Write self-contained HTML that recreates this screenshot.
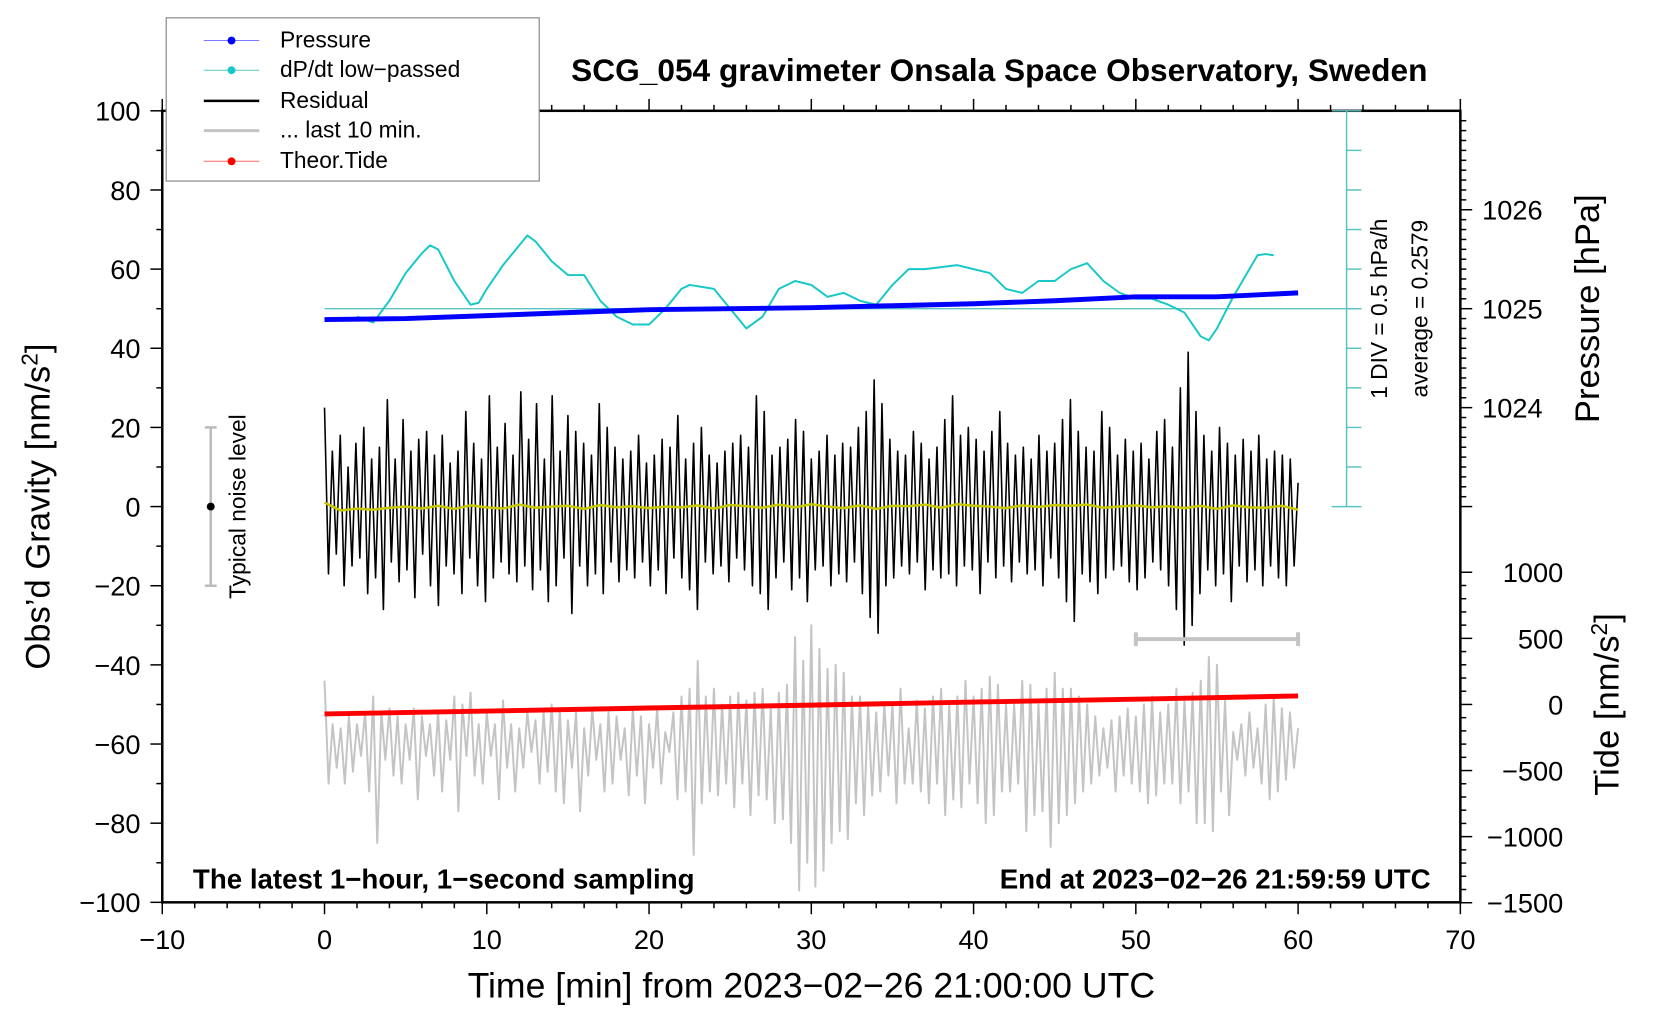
<!DOCTYPE html>
<html><head><meta charset="utf-8">
<style>
html,body{margin:0;padding:0;background:#fff;}
svg{display:block;font-family:"Liberation Sans",sans-serif;}
</style></head>
<body>
<svg id="chart" width="1660" height="1020" viewBox="0 0 1660 1020" xmlns="http://www.w3.org/2000/svg">
<rect x="0" y="0" width="1660" height="1020" fill="#fff"/>
<g transform="scale(0.9894)">
<g id="layer-axes"></g>
<g id="layer-data"></g>
<g id="layer-text"></g>
</g>
</svg>
<script>
// ---- data arrays ----
const xTicks = [-10,0,10,20,30,40,50,60,70];
const yTicks = [-100,-80,-60,-40,-20,0,20,40,60,80,100];
const pressureTicks = [1024,1025,1026];
const tideTicks = [1000,500,0,-500,-1000,-1500];
const pressureTime = [0,5,10,15,20,25,30,35,40,45,50,55,60];
const pressureVals = [1024.89,1024.90,1024.93,1024.96,1024.99,1025.00,1025.01,1025.03,1025.05,1025.08,1025.12,1025.12,1025.16];
const dpdtTime = [2,3,4,5,6,6.5,7,8,9,9.5,10,11,12,12.5,13,14,15,16,17,18,19,20,21,22,22.5,24,25,26,27,28,29,30,31,32,33,34,35,36,37,38,39,40,41,42,43,44,45,46,47,48,49,50,51,52,53,54,54.5,55,56,57,57.5,58,58.5];
const dpdtVals = [48,46.5,52,59,64,66,65,57,51,51.5,55,61,66,68.5,67,62,58.5,58.5,52,48,46,46,50,55,56,55,50,45,48,55,57,56,53,54,52,51,56,60,60,60.5,61,60,59,55,54,57,57,60,61.5,57,54,52.5,52.5,51,49,43,42,45,53,60,63.5,63.8,63.5];
const tideTime = [0,10,20,30,40,50,60];
const tideVals = [-72,-50,-27,-5,18,40,64];
const smoothVals = [1,-1,-0.5,-0.8,-0.3,0,-0.5,0.2,-0.6,0.3,-0.2,-0.5,0.5,-0.3,0,0.2,-0.6,0.4,-0.2,0.1,-0.4,0,-0.2,0.3,-0.5,0.4,0.1,-0.3,0.5,-0.2,0.6,0,-0.4,0.3,-0.6,0.2,0.1,0.5,-0.3,0.6,0.2,0,-0.4,0.3,-0.1,0.4,0.2,0.5,-0.3,0,0.3,-0.2,0.1,-0.4,0.2,-0.6,0.3,-0.2,-0.3,0.2,-0.8];
const grayVals = [-44,-70,-55,-66,-56,-70,-53,-67,-55,-63,-52,-72,-48,-85,-52,-64,-51,-68,-53,-70,-55,-64,-51,-74,-53,-63,-55,-68,-52,-72,-54,-64,-48,-77,-50,-63,-47,-68,-55,-70,-52,-63,-55,-74,-49,-66,-55,-72,-56,-66,-52,-62,-54,-70,-52,-67,-50,-72,-51,-75,-54,-66,-52,-77,-56,-68,-51,-64,-55,-72,-52,-70,-53,-64,-56,-73,-51,-68,-53,-75,-55,-66,-51,-70,-57,-62,-52,-74,-48,-72,-46,-88,-39,-75,-48,-72,-46,-73,-50,-70,-48,-76,-47,-70,-49,-78,-47,-73,-46,-74,-51,-80,-47,-79,-45,-85,-33,-97,-39,-90,-30,-96,-36,-92,-41,-85,-40,-82,-42,-84,-48,-75,-48,-78,-50,-73,-52,-72,-50,-68,-50,-75,-46,-70,-56,-70,-49,-72,-51,-75,-48,-70,-46,-78,-50,-74,-48,-76,-44,-70,-48,-75,-46,-80,-43,-78,-45,-72,-50,-72,-50,-70,-44,-82,-45,-78,-50,-77,-46,-86,-42,-80,-46,-78,-46,-75,-48,-72,-50,-70,-53,-68,-56,-66,-54,-72,-53,-68,-51,-70,-53,-72,-50,-75,-48,-73,-52,-70,-50,-70,-46,-75,-49,-72,-47,-80,-44,-80,-38,-82,-40,-72,-49,-78,-57,-64,-55,-68,-52,-66,-56,-70,-50,-74,-48,-72,-51,-69,-52,-66,-56];
const residVals = [25,-17,14,-12,18,-20,10,-15,16,-13,20,-22,12,-18,15,-26,27,-14,12,-19,22,-16,14,-23,17,-12,19,-20,13,-25,18,-15,11,-17,14,-22,24,-13,16,-20,12,-24,28,-18,15,-14,21,-17,13,-19,29,-15,17,-21,26,-16,12,-24,28,-20,14,-13,23,-27,19,-15,16,-20,13,-17,26,-22,20,-14,15,-19,12,-16,14,-18,18,-14,11,-20,13,-16,17,-22,15,-13,23,-18,12,-21,16,-26,20,-14,13,-17,11,-15,14,-19,16,-13,18,-16,15,-20,28,-22,24,-26,13,-18,15,-14,17,-21,22,-18,19,-24,12,-16,14,-15,18,-20,13,-17,16,-19,15,-14,20,-22,24,-28,32,-32,26,-20,17,-18,14,-15,13,-17,19,-14,16,-21,12,-16,15,-18,22,-17,28,-20,18,-15,20,-16,17,-22,14,-14,19,-18,24,-15,16,-19,13,-14,15,-17,12,-16,18,-20,14,-13,16,-18,22,-24,27,-29,19,-17,15,-19,14,-22,24,-18,20,-16,13,-15,17,-19,14,-21,16,-18,12,-14,19,-16,22,-20,15,-26,30,-35,39,-30,24,-22,18,-16,14,-20,20,-17,16,-24,13,-15,17,-19,14,-16,18,-20,12,-15,14,-18,13,-20,12,-15,6];

// ---- scales ----
const X = t => 164 + (t + 10) * 16.4;
const Y = g => 912 - (g + 100) * 4.0;
const P = p => 312 - (p - 1025) * 100;
const TD = v => 712 - v * 0.1336;

const NS = 'http://www.w3.org/2000/svg';
function mk(tag, parent, attrs) {
  const el = document.createElementNS(NS, tag);
  for (const k in attrs) el.setAttribute(k, attrs[k]);
  parent.appendChild(el);
  return el;
}
const axes = document.getElementById('layer-axes');
const data = document.getElementById('layer-data');
const txt = document.getElementById('layer-text');

function text(parent, x, y, s, size, anchor, extra) {
  const t = mk('text', parent, Object.assign({x: x, y: y, 'font-size': size, 'text-anchor': anchor, fill: '#000'}, extra || {}));
  t.textContent = s;
  return t;
}
const fmt = v => (v < 0 ? '\u2212' + Math.abs(v) : String(v));
const TF = 27.5;

const frame = mk('rect', axes, {x: 164, y: 112, width: 1312, height: 800, fill: 'none', stroke: '#000', 'stroke-width': 2.5});



for (let t = -10; t <= 70; t += 2) {
  const major = t % 10 === 0;
  const len = major ? 12 : 6;
  mk('line', axes, {x1: X(t), y1: 912, x2: X(t), y2: 912 + len, stroke: '#000', 'stroke-width': 1.5});
  mk('line', axes, {x1: X(t), y1: 112, x2: X(t), y2: 112 - len, stroke: '#000', 'stroke-width': 1.5});
}
xTicks.forEach(t => {
  const el = text(txt, X(t), 959, fmt(t), TF, 'middle');
  
  
});
for (let g = -100; g <= 100; g += 10) {
  const len = g % 20 === 0 ? 12 : 6;
  mk('line', axes, {x1: 164, y1: Y(g), x2: 164 - len, y2: Y(g), stroke: '#000', 'stroke-width': 1.5});
}
yTicks.forEach(g => {
  const el = text(txt, 142, Y(g) + 10, fmt(g), TF, 'end');
  
  
});
for (let p = 1023.0; p <= 1026.95; p += 0.1) {
  const y = P(p);
  if (y < 112 || y > 560) continue;
  const major = Math.abs(p - Math.round(p)) < 0.01;
  mk('line', axes, {x1: 1476, y1: y, x2: 1476 + (major ? 12 : 6), y2: y, stroke: '#000', 'stroke-width': 1.5});
}
pressureTicks.forEach(p => {
  const el = text(txt, 1498, P(p) + 10, String(p), TF, 'start');
  
  
});
for (let v = -1500; v <= 1000; v += 100) {
  const major = v % 500 === 0;
  mk('line', axes, {x1: 1476, y1: TD(v), x2: 1476 + (major ? 12 : 6), y2: TD(v), stroke: '#000', 'stroke-width': 1.5});
}
tideTicks.forEach(v => {
  const el = text(txt, 1580, TD(v) + 10, fmt(v), TF, 'end');
  
  
});

const cy = '#5cc3c3';
mk('line', axes, {x1: 1361, y1: 112, x2: 1361, y2: 512, stroke: cy, 'stroke-width': 1.5});
for (let g = 0; g <= 100; g += 10) {
  const end = g === 0 || g === 100;
  mk('line', axes, {x1: end ? 1346 : 1361, y1: Y(g), x2: 1376, y2: Y(g), stroke: cy, 'stroke-width': 1.5});
}
const base = mk('line', axes, {x1: X(0), y1: Y(50), x2: 1376, y2: Y(50), stroke: cy, 'stroke-width': 1.5});



function poly(xs, ys, stroke, w, name) {
  const pts = xs.map((x, i) => x.toFixed(1) + ',' + ys[i].toFixed(1)).join(' ');
  const el = mk('polyline', data, {points: pts, fill: 'none', stroke: stroke, 'stroke-width': w, 'stroke-linejoin': 'round'});
  
  
  return el;
}
const stepG = 60 / (grayVals.length - 1);
poly(grayVals.map((v, i) => X(i * stepG)), grayVals.map(v => Y(v)), '#c4c4c4', 2, 'last-10-min-line');
const stepR = 60 / (residVals.length - 1);
poly(residVals.map((v, i) => X(i * stepR)), residVals.map(v => Y(v)), '#000', 1.6, 'residual-line');
const stepS = 60 / (smoothVals.length - 1);
poly(smoothVals.map((v, i) => X(i * stepS)), smoothVals.map(v => Y(v)), '#c8c800', 2.5, 'residual-smoothed-line');
poly(dpdtTime.map(X), dpdtVals.map(Y), '#18c8c8', 2, 'dpdt-line');
poly(pressureTime.map(X), pressureVals.map(P), '#0000ff', 5, 'pressure-line');
poly(tideTime.map(X), tideVals.map(TD), '#ff0000', 5, 'tide-line');

const gb = mk('g', data, {});


mk('line', gb, {x1: X(50), y1: 646, x2: X(60), y2: 646, stroke: '#c4c4c4', 'stroke-width': 4});
mk('line', gb, {x1: X(50), y1: 639, x2: X(50), y2: 653, stroke: '#c4c4c4', 'stroke-width': 4});
mk('line', gb, {x1: X(60), y1: 639, x2: X(60), y2: 653, stroke: '#c4c4c4', 'stroke-width': 4});

const ni = mk('g', data, {});


mk('line', ni, {x1: 213, y1: Y(20), x2: 213, y2: Y(-20), stroke: '#bbb', 'stroke-width': 2.5});
mk('line', ni, {x1: 207, y1: Y(20), x2: 219, y2: Y(20), stroke: '#bbb', 'stroke-width': 2.5});
mk('line', ni, {x1: 207, y1: Y(-20), x2: 219, y2: Y(-20), stroke: '#bbb', 'stroke-width': 2.5});
mk('circle', ni, {cx: 213, cy: Y(0), r: 4, fill: '#000'});
</script>

<svg style="position:absolute;left:0;top:0" width="1660" height="1020" xmlns="http://www.w3.org/2000/svg" font-family="Liberation Sans, sans-serif">
 <g transform="scale(0.9894)">
  <g>
    <rect x="168" y="18" width="377" height="165" fill="#fff" stroke="#888" stroke-width="1.2"/>
    <line x1="206" y1="41" x2="262" y2="41" stroke="#6666ff" stroke-width="1"/><circle cx="234" cy="41" r="4" fill="#0000ff"/>
    <text x="283" y="48" font-size="23">Pressure</text>
    <line x1="206" y1="71" x2="262" y2="71" stroke="#55cccc" stroke-width="1"/><circle cx="234" cy="71" r="4" fill="#18c8c8"/>
    <text x="283" y="78" font-size="23">dP/dt low−passed</text>
    <line x1="206" y1="102" x2="262" y2="102" stroke="#000" stroke-width="2.5"/>
    <text x="283" y="109" font-size="23">Residual</text>
    <line x1="206" y1="132" x2="262" y2="132" stroke="#c4c4c4" stroke-width="3"/>
    <text x="283" y="139" font-size="23">... last 10 min.</text>
    <line x1="206" y1="163" x2="262" y2="163" stroke="#ff6666" stroke-width="1"/><circle cx="234" cy="163" r="4" fill="#ff0000"/>
    <text x="283" y="170" font-size="23">Theor.Tide</text>
  </g>
  <text x="1010" y="82" font-size="32" font-weight="bold" text-anchor="middle">SCG_054 gravimeter Onsala Space Observatory, Sweden</text>
  <text x="195" y="898" font-size="28" font-weight="bold">The latest 1−hour, 1−second sampling</text>
  <text x="1446" y="898" font-size="28" font-weight="bold" text-anchor="end">End at 2023−02−26 21:59:59 UTC</text>
  <text x="820" y="1008" font-size="36" text-anchor="middle">Time [min] from 2023−02−26 21:00:00 UTC</text>
  <text transform="translate(50,512) rotate(-90)" font-size="35" text-anchor="middle">Obs’d Gravity [nm/s<tspan font-size="23" dy="-12">2</tspan><tspan dy="12">]</tspan></text>
  <text transform="translate(248,512) rotate(-90)" font-size="23" text-anchor="middle">Typical noise level</text>
  <text transform="translate(1402,312) rotate(-90)" font-size="23" text-anchor="middle">1 DIV = 0.5 hPa/h</text>
  <text transform="translate(1443,312) rotate(-90)" font-size="23" text-anchor="middle">average = 0.2579</text>
  <text transform="translate(1616,312) rotate(-90)" font-size="35" text-anchor="middle">Pressure [hPa]</text>
  <text transform="translate(1636,712) rotate(-90)" font-size="35" text-anchor="middle">Tide [nm/s<tspan font-size="23" dy="-12">2</tspan><tspan dy="12">]</tspan></text>
 </g>
</svg>
</body></html>
